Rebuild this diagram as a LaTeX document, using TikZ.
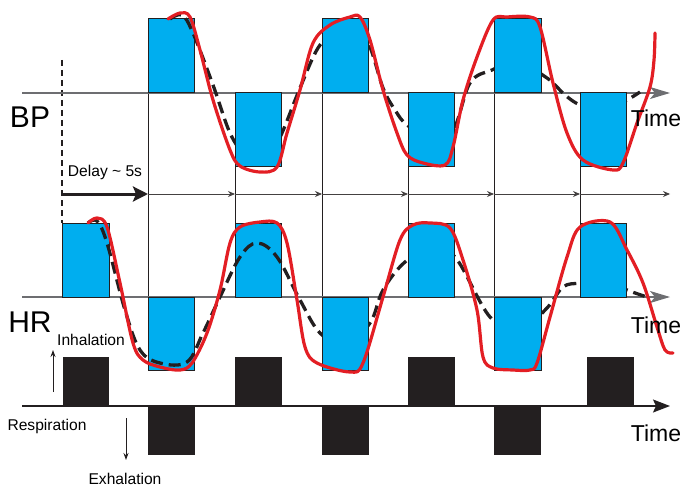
\documentclass[tikz,border=0pt]{standalone}
\usepackage{fontspec}
\setmainfont{Liberation Sans}
\usetikzlibrary{arrows.meta}
\definecolor{cyanbox}{HTML}{00AEEF}
\definecolor{redline}{HTML}{E31E24}
\definecolor{ink}{HTML}{231F20}
\definecolor{axgray}{HTML}{6D6E71}
\begin{document}
\begin{tikzpicture}[x=1pt,y=-1pt,
  bluebox/.style={fill=cyanbox,draw=ink,line width=1pt},
  blackbox/.style={fill=ink,draw=ink,line width=1pt},
  grayaxis/.style={draw=axgray,line width=1.3pt,-{Stealth[length=20pt,width=12pt,inset=5pt]}},
  respaxis/.style={draw=ink,line width=1.6pt,-{Stealth[length=17pt,width=13pt,inset=3pt]}},
  delayline/.style={draw=ink!85,line width=0.9pt,-{Stealth[length=7pt,width=6pt]}},
  delaybig/.style={draw=ink,line width=3pt,-{Stealth[length=15pt,width=15pt,inset=3pt]}},
  vline/.style={draw=ink,line width=1pt},
  smallarrow/.style={draw=ink,line width=1pt,-{Stealth[length=7pt,width=5pt]}},
  redcurve/.style={draw=redline,line width=3.2pt,line cap=round,line join=round},
  blackdash/.style={draw=ink,line width=3.3pt,dash pattern=on 12pt off 6pt},
  bigtext/.style={font=\fontsize{30}{34}\selectfont,inner sep=0pt},
  timetext/.style={font=\fontsize{23}{27}\selectfont,inner sep=0pt},
  smalltext/.style={font=\fontsize{15.6}{18}\selectfont,inner sep=0pt}
]
\useasboundingbox (0,0) rectangle (700,497);

% coordinates
\coordinate (bpL) at (22,93);   \coordinate (bpR) at (670,93);
\coordinate (hrL) at (22,297);  \coordinate (hrR) at (670,297);
\coordinate (rsL) at (22,406);  \coordinate (rsR) at (670,406);
\coordinate (dStart) at (62,194);
\coordinate (d1) at (148,194); \coordinate (d2) at (235,194); \coordinate (d3) at (322,194);
\coordinate (d4) at (408,194); \coordinate (d5) at (494,194); \coordinate (d6) at (580,194);
\coordinate (d7) at (670,194);

% vertical lines
\draw[vline] (148,93) -- (148,297);
\draw[vline] (322,93) -- (322,297);
\draw[vline] (494,93) -- (494,297);
\draw[vline] (235,166) -- (235,223);
\draw[vline] (408,166) -- (408,223);
\draw[vline] (580,166) -- (580,223);

% dashed vertical
\draw[draw=ink,line width=1.5pt,dash pattern=on 6pt off 4pt] (62,60) -- (62,223);

% axes
\draw[grayaxis] (bpL) -- (bpR);
\draw[grayaxis] (hrL) -- (hrR);

% delay row
\draw[delaybig] (dStart) -- (d1);
\draw[delayline] (d1) -- (d2);
\draw[delayline] (d2) -- (d3);
\draw[delayline] (d3) -- (d4);
\draw[delayline] (d4) -- (d5);
\draw[delayline] (d5) -- (d6);
\draw[delayline] (d6) -- (d7);

% BP boxes and curves
\path[bluebox] (148,19) rectangle (194,93);
\draw[blackdash] plot[smooth,tension=0.6] coordinates {(170,19) (182,15) (193,33) (213,85) (230,133) (245,155) (258,160) (270,155) (282,133) (300,88) (318,48) (335,32) (350,30) (368,43) (383,88) (395,110) (407,125) (430,137) (453,130) (470,83) (492,70) (517,62) (547,78) (565,95) (580,105) (603,112) (627,100) (640,92)};
\path[bluebox] (235,93) rectangle (281,166);
\path[bluebox] (322,19) rectangle (368,93);
\path[bluebox] (408,93) rectangle (454,166);
\path[bluebox] (494,19) rectangle (541,93);
\path[bluebox] (580,93) rectangle (626,166);
\draw[redcurve] plot[smooth,tension=0.55] coordinates {(168,19) (180,13) (190,17) (200,50) (213,100) (230,150) (240,166) (260,172) (277,167) (287,133) (300,90) (313,43) (330,25) (350,17) (360,17) (370,40) (383,90) (397,133) (407,155) (423,163) (445,165) (453,147) (463,100) (477,57) (493,20) (507,17) (530,17) (540,27) (553,83) (567,133) (583,160) (613,170) (623,163) (637,123) (650,87) (654,60) (655,33)};

% HR boxes and curves
\path[bluebox] (62,223) rectangle (109,297);
\path[bluebox] (148,297) rectangle (194,370);
\path[bluebox] (235,223) rectangle (281,297);
\draw[blackdash] plot[smooth,tension=0.6] coordinates {(88,223) (97,221) (107,243) (125,310) (140,350) (160,363) (187,362) (203,333) (220,297) (240,257) (257,243) (277,257) (300,300) (320,333) (345,345) (370,323) (383,290) (405,262) (430,250) (455,257) (490,317) (520,330) (547,308) (563,287) (580,283) (605,280) (627,290) (647,297)};
\path[bluebox] (322,297) rectangle (368,370);
\path[bluebox] (408,223) rectangle (454,297);
\path[bluebox] (494,297) rectangle (541,370);
\path[bluebox] (580,223) rectangle (626,297);
\draw[redcurve] plot[smooth,tension=0.55] coordinates {(88,223) (97,218) (107,227) (120,283) (133,343) (143,360) (160,367) (180,370) (192,363) (207,333) (220,290) (230,243) (240,227) (260,222) (277,223) (287,243) (297,300) (305,347) (317,363) (350,372) (363,363) (383,297) (400,240) (413,225) (430,223) (450,228) (463,260) (477,310) (483,357) (493,368) (513,370) (530,370) (537,363) (550,317) (567,257) (580,227) (610,222) (627,250) (643,283) (657,327) (665,350) (673,353)};

% respiration
\draw[respaxis] (rsL) -- (rsR);
\path[blackbox] (63,357) rectangle (108,406);
\path[blackbox] (235,357) rectangle (281,406);
\path[blackbox] (408,357) rectangle (454,406);
\path[blackbox] (587,357) rectangle (633,406);
\path[blackbox] (148,406) rectangle (194,454);
\path[blackbox] (322,406) rectangle (368,454);
\path[blackbox] (494,406) rectangle (540,454);

% texts
\node[bigtext] (bp) at (30,117) {BP};
\node[bigtext] (hr) at (30,322) {HR};
\node[timetext] (t1) at (656,118) {Time};
\node[timetext] (t2) at (656,325) {Time};
\node[timetext] (t3) at (656,433) {Time};
\node[smalltext] (delay) at (105,172) {Delay \char`\~{} 5s};
\node[smalltext] (inh) at (91,340) {Inhalation};
\node[smalltext] (resp) at (47,426) {Respiration};
\node[smalltext] (exh) at (125,479) {Exhalation};

\coordinate (upA) at (53,392); \coordinate (upB) at (53,350);
\coordinate (dnA) at (126,418); \coordinate (dnB) at (126,460);
\draw[smallarrow] (upA) -- (upB);
\draw[smallarrow] (dnA) -- (dnB);
\end{tikzpicture}
\end{document}
